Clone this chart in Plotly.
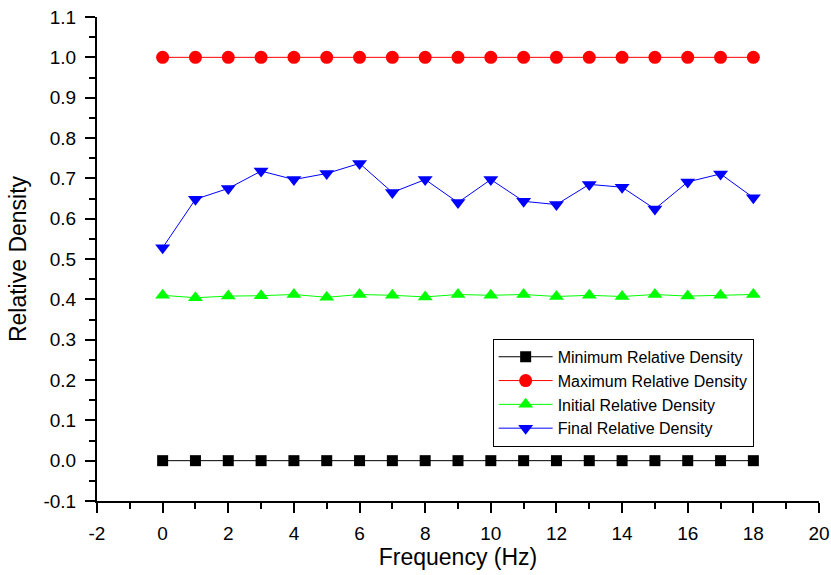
import plotly.graph_objects as go

# Sintering frequency sweep and relative density measurements
frequency = list(range(0, 19))
min_density = [0.0] * 19
max_density = [1.0] * 19
initial_density = [0.410, 0.404, 0.408, 0.409, 0.412, 0.405, 0.412, 0.410, 0.406, 0.412,
                   0.410, 0.412, 0.407, 0.410, 0.407, 0.412, 0.408, 0.410, 0.412]
final_density = [0.528, 0.648, 0.675, 0.718, 0.697, 0.712, 0.737, 0.665, 0.697, 0.640,
                 0.697, 0.643, 0.635, 0.685, 0.678, 0.624, 0.691, 0.711, 0.652]

# Axis tick positions and their labels (plain hyphen for negatives)
x_tick_values = list(range(-2, 21, 2))
x_tick_labels = [str(v) for v in x_tick_values]
y_tick_values = [round(-0.1 + 0.1 * i, 1) for i in range(13)]
y_tick_labels = [f"{v:.1f}" for v in y_tick_values]

series = [
    ("Minimum Relative Density", min_density, "#000000", "square", 11),
    ("Maximum Relative Density", max_density, "#ff0000", "circle", 13),
    ("Initial Relative Density", initial_density, "#00ff00", "triangle-up", 13),
    ("Final Relative Density", final_density, "#0000ff", "triangle-down", 13),
]

fig = go.Figure()
for name, values, color, symbol, size in series:
    fig.add_trace(go.Scatter(
        x=frequency, y=values, name=name, mode="lines+markers",
        line=dict(color=color, width=1),
        marker=dict(color=color, symbol=symbol, size=size, line=dict(width=0)),
    ))

font_family = "Liberation Sans, Arial, sans-serif"
axis_common = dict(
    showgrid=False, zeroline=False,
    showline=True, linecolor="black", linewidth=2,
    ticks="outside", ticklen=10, tickwidth=2, tickcolor="black",
    tickfont=dict(size=19),
    tickmode="array",
    automargin=False,
)
fig.update_layout(
    width=831, height=575,
    margin=dict(l=97, r=12, t=17, b=74),
    plot_bgcolor="white", paper_bgcolor="white",
    font=dict(family=font_family, color="black"),
    showlegend=True,
    legend=dict(
        x=0.548, y=0.335, xanchor="left", yanchor="top",
        bordercolor="black", borderwidth=1, bgcolor="white",
        font=dict(size=16, family=font_family),
        itemwidth=54,
    ),
    xaxis=dict(
        range=[-2, 20], tickvals=x_tick_values, ticktext=x_tick_labels,
        ticklabelstandoff=4,
        minor=dict(ticks="outside", ticklen=6, tickwidth=2, tickcolor="black",
                   tick0=0, dtick=1),
        title=dict(text="Frequency (Hz)", font=dict(size=23), standoff=6),
        **axis_common,
    ),
    yaxis=dict(
        range=[-0.1, 1.1], tickvals=y_tick_values, ticktext=y_tick_labels,
        ticklabelstandoff=5,
        minor=dict(ticks="outside", ticklen=6, tickwidth=2, tickcolor="black",
                   tick0=0, dtick=0.05),
        title=dict(text="Relative Density", font=dict(size=23), standoff=10),
        **axis_common,
    ),
)

fig.write_html("out.html")
